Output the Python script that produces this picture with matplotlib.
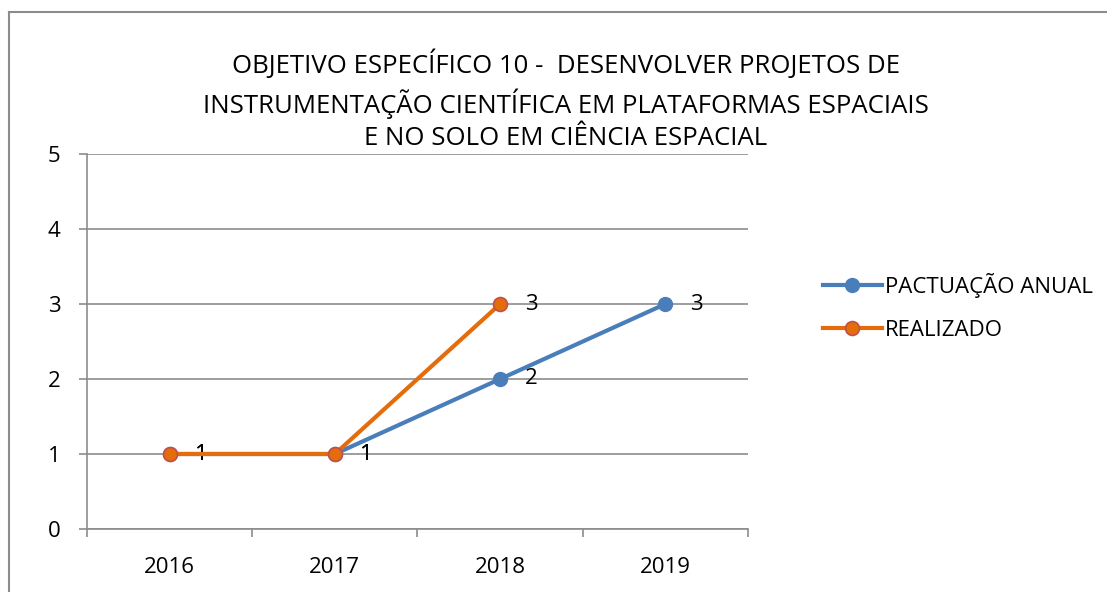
import numpy as np
import matplotlib.pyplot as plt
from matplotlib.lines import Line2D

# Dados
anos = ["2016", "2017", "2018", "2019"]
pactuacao = [1, 1, 2, 3]
realizado = [1, 1, 3]

titulo = ("OBJETIVO ESPECÍFICO 10 -  DESENVOLVER PROJETOS DE\n"
          "INSTRUMENTAÇÃO CIENTÍFICA EM PLATAFORMAS ESPACIAIS\n"
          "E NO SOLO EM CIÊNCIA ESPACIAL")

plt.rcParams['font.family'] = ['Open Sans', 'DejaVu Sans']

azul = '#4A7EBB'
laranja = '#E46C0A'
borda_laranja = '#C0504D'
cinza = '#8C8C8C'

fig = plt.figure(figsize=(11.07, 5.92), dpi=100)
ax = fig.add_axes([87/1107, 63/592, 661/1107, 375/592])

x = np.arange(len(anos))

ax.plot(x, pactuacao, color=azul, linewidth=3, marker='o', markersize=10,
        markerfacecolor=azul, markeredgecolor=azul, zorder=3,
        label='PACTUAÇÃO ANUAL')
ax.plot(x[:len(realizado)], realizado, color=laranja, linewidth=3, marker='o',
        markersize=10, markerfacecolor=laranja, markeredgecolor=borda_laranja,
        markeredgewidth=1.2, zorder=4, label='REALIZADO')

# Rótulos de dados
for xi, v in zip(x, pactuacao):
    ax.annotate(str(v), (xi, v), xytext=(18, 0), textcoords='offset points',
                va='center', ha='left', fontsize=16)
for xi, v in zip(x, realizado):
    ax.annotate(str(v), (xi, v), xytext=(18, 0), textcoords='offset points',
                va='center', ha='left', fontsize=16)

ax.set_xlim(-0.5, 3.5)
ax.set_ylim(0, 5)
ax.set_yticks(range(6))
ax.set_xticks(np.arange(-0.5, 4, 1))
ax.set_xticklabels([])
ax.set_xticks(x, minor=True)
ax.set_xticklabels(anos, minor=True)
ax.tick_params(axis='x', which='major', length=6, color=cinza, width=1.2)
ax.tick_params(axis='x', which='minor', length=0, labelsize=16, pad=20)
ax.tick_params(axis='y', length=6, color=cinza, width=1.2, labelsize=16, pad=13)

ax.grid(axis='y', color=cinza, linewidth=1.2)
ax.set_axisbelow(True)
for s in ['top', 'right']:
    ax.spines[s].set_visible(False)
for s in ['left', 'bottom']:
    ax.spines[s].set_color(cinza)
    ax.spines[s].set_linewidth(1.2)

fig.text(566/1107, 1 - 100/592, titulo, ha='center', va='center',
         fontsize=18.5, linespacing=1.38)

ax.legend(loc='center left', bbox_to_anchor=(803/1107, 1 - 307/592),
          bbox_transform=fig.transFigure, frameon=False, fontsize=16,
          handlelength=2.65, handletextpad=0.15, labelspacing=1.0)

# Borda do gráfico
fig.add_artist(Line2D([9/1107, 9/1107], [0, 1 - 12/592], color=cinza, linewidth=1.5))
fig.add_artist(Line2D([9/1107, 1], [1 - 12/592, 1 - 12/592], color=cinza, linewidth=1.5))

fig.savefig('out.png', dpi=100)
